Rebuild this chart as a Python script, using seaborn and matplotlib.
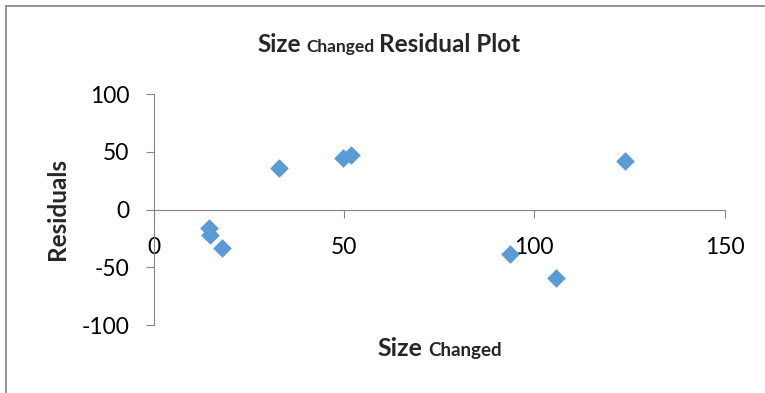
import matplotlib
matplotlib.use("Agg")
import matplotlib.pyplot as plt
import seaborn as sns
import pandas as pd

# values
size_changed = [14.6, 14.8, 18.0, 32.9, 49.7, 51.8, 93.7, 105.8, 123.8]
residuals = [-16.0, -22.3, -33.7, 36.2, 44.5, 47.6, -38.9, -59.1, 42.3]
x_ticks = [0, 50, 100, 150]
y_ticks = [-100, -50, 0, 50, 100]

sns.set_style("white")
plt.rcParams["font.family"] = ["Lato", "DejaVu Sans"]
plt.rcParams["axes.unicode_minus"] = False

axis_grey = "#868686"
point_blue = "#5B9BD5"

fig = plt.figure(figsize=(7.65, 3.93), dpi=100)
ax = fig.add_axes([0.2009, 0.173, 0.7464, 0.5878])

df = pd.DataFrame({"size_changed": size_changed, "residual": residuals})
sns.scatterplot(data=df, x="size_changed", y="residual", marker="D", s=90,
                color=point_blue, linewidth=0, ax=ax, zorder=3)

ax.set_xlim(0, 150)
ax.set_ylim(-100, 100)
ax.set_xticks(x_ticks)
ax.set_yticks(y_ticks)
ax.set_xlabel("")
ax.set_ylabel("")
ax.grid(False)

for side in ["top", "right"]:
    ax.spines[side].set_visible(False)
ax.spines["bottom"].set_position(("data", 0))
for side in ["left", "bottom"]:
    ax.spines[side].set_color(axis_grey)
    ax.spines[side].set_linewidth(0.8)

ax.tick_params(axis="x", direction="out", length=5.5, width=0.8, color=axis_grey,
               pad=14, labelsize=16.5, labelcolor="black", bottom=True)
ax.tick_params(axis="y", direction="out", length=5.5, width=0.8, color=axis_grey,
               pad=12, labelsize=16.5, labelcolor="black", left=True)

# chart area border (only top and left are visible in the crop)
fig.add_artist(plt.Line2D([0.0072, 0.0072], [0, 0.985], transform=fig.transFigure,
                          color="#8c8c8c", linewidth=1.3))
fig.add_artist(plt.Line2D([0.0072, 1.0], [0.985, 0.985], transform=fig.transFigure,
                          color="#8c8c8c", linewidth=1.3))


def mixed_text(parts, x_center, y_base):
    texts = []
    for s, size in parts:
        t = fig.text(0, y_base, s, fontsize=size, fontweight="bold",
                     ha="left", va="baseline")
        texts.append(t)
    fig.canvas.draw()
    r = fig.canvas.get_renderer()
    widths = [t.get_window_extent(r).width for t in texts]
    gaps = [0.24 * size * fig.dpi / 72 for _, size in parts[:-1]]
    total = sum(widths) + sum(gaps)
    x = x_center * fig.bbox.width - total / 2
    for i, t in enumerate(texts):
        t.set_x(x / fig.bbox.width)
        x += widths[i] + (gaps[i] if i < len(gaps) else 0)


mixed_text([("Size", 17.5), ("Changed", 12.5), ("Residual Plot", 17.5)], 0.508, 0.8685)
mixed_text([("Size", 18), ("Changed", 13.5)], 0.5745, 0.0941)

fig.text(0.085, 0.468, "Residuals", rotation=90, rotation_mode="anchor",
         ha="center", va="baseline", fontsize=17.5, fontweight="bold")

fig.savefig("out.png", dpi=100)
